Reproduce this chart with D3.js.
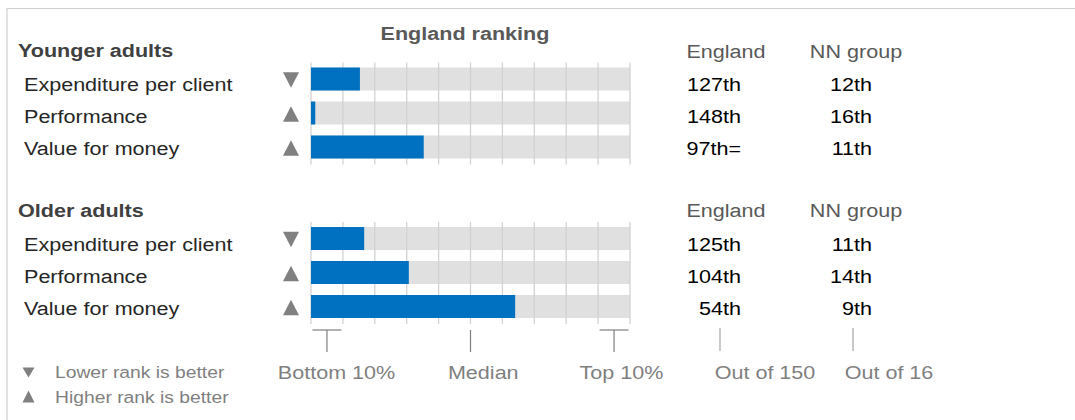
<!DOCTYPE html>
<html>
<head>
<meta charset="utf-8">
<script src="https://cdn.jsdelivr.net/npm/d3@7"></script>
<style>
  body { margin: 0; background: #fff; }
  svg { display: block; font-family: "Liberation Sans", Arial, sans-serif; }
</style>
</head>
<body>
<svg id="chart" width="1075" height="420"></svg>
<script>
(function() {

  // data
  var groups = ['Younger adults', 'Older adults'];
  var measures = ['Expenditure per client', 'Performance', 'Value for money'];
  var betterWay = ['down', 'up', 'up'];   // down = lower rank is better
  var englandRank = [[127, 148, 97], [125, 104, 54]];
  var englandLabel = [['127th', '148th', '97th='], ['125th', '104th', '54th']];
  var nnRank = [[12, 16, 11], [11, 14, 9]];
  var englandTotal = 150;
  var nnTotal = 16;
  var markers = [
    {label: 'Bottom 10%', from: 0, to: 15, textAt: 12},
    {label: 'Median', from: 75, to: 75, textAt: 81},
    {label: 'Top 10%', from: 135, to: 150, textAt: 146}
  ];
  var columns = ['England', 'NN group'];
  var outOf = ['Out of ' + englandTotal, 'Out of ' + nnTotal];

  var colors = {blue: '#0070c0', track: '#e0e0e0', grid: '#d2d2d2', tri: '#808080',
                dark: '#404040', label: '#262626', grey: '#7f7f7f'};
  var sx = 1.135;   // text in the reference is a little wide

  var svg = d3.select('#chart');

  // text helper: stretched horizontally
  var txt = function(x, y, s, size, opts) {
    opts = opts || {};
    return svg.append('text')
      .attr('transform', 'translate(' + x + ',' + y + ') scale(' + sx + ',1)')
      .attr('text-anchor', opts.anchor || 'start')
      .attr('font-size', size)
      .attr('font-weight', opts.bold ? 'bold' : 'normal')
      .attr('fill', opts.fill || colors.label)
      .text(s);
  };

  var tri = function(cx, cy, w, h, dir) {
    var p = dir === 'down'
      ? [[cx - w/2, cy - h/2], [cx + w/2, cy - h/2], [cx, cy + h/2]]
      : [[cx - w/2, cy + h/2], [cx + w/2, cy + h/2], [cx, cy - h/2]];
    svg.append('path').attr('d', d3.line()(p) + 'Z').attr('fill', colors.tri);
  };

  // frame
  svg.append('path')
    .attr('d', 'M7,420V8.5H1075')
    .attr('fill', 'none').attr('stroke', '#d0d0d0').attr('stroke-width', 1.2);

  var x = d3.scaleLinear().domain([0, englandTotal]).range([311, 630]);
  var gridVals = d3.range(0, englandTotal + 1, englandTotal / 10);

  txt(465, 40, 'England ranking', 19, {bold: true, anchor: 'middle', fill: '#595959'});

  var groupOff = [0, 159.5];
  var rowStep = 34, barH = 23, textStep = 32;

  groups.forEach(function(g, gi) {
    var off = groupOff[gi];
    var barTop = 67.5 + off;

    txt(18, 57 + off, g, 19, {bold: true, fill: colors.dark});
    columns.forEach(function(c, ci) {
      txt(ci === 0 ? 726 : 856, 57.5 + off, c, 19, {anchor: 'middle', fill: '#595959'});
    });

    // tracks
    svg.selectAll(null).data(measures).enter().append('rect')
      .attr('x', x(0)).attr('width', x(englandTotal) - x(0))
      .attr('y', function(d, i) { return barTop + i * rowStep; })
      .attr('height', barH)
      .attr('fill', colors.track);

    // grid
    svg.selectAll(null).data(gridVals).enter().append('line')
      .attr('x1', function(d) { return x(d); }).attr('x2', function(d) { return x(d); })
      .attr('y1', barTop - 5).attr('y2', barTop + 2 * rowStep + barH + 6)
      .attr('stroke', colors.grid).attr('stroke-width', 1.3);

    // bars
    svg.selectAll(null).data(englandRank[gi]).enter().append('rect')
      .attr('x', x(0))
      .attr('width', function(d) { return x(englandTotal - d) - x(0); })
      .attr('y', function(d, i) { return barTop + i * rowStep; })
      .attr('height', barH)
      .attr('fill', colors.blue);

    measures.forEach(function(m, i) {
      var base = 91 + off + i * textStep;
      txt(24, base, m, 19);
      tri(291, barTop + i * rowStep + barH / 2 + 1, 16, 15.5, betterWay[i]);
      txt(741, base, englandLabel[gi][i], 19, {anchor: 'end', fill: '#000'});
      txt(872, base, nnRank[gi][i] + 'th', 19, {anchor: 'end', fill: '#000'});
    });
  });

  // median / 10% markers
  var by = 330, by2 = 352;
  markers.forEach(function(mk) {
    if (mk.from !== mk.to) {
      svg.append('line')
        .attr('x1', x(mk.from) + 1.5).attr('x2', x(mk.to) - 1.5)
        .attr('y1', by).attr('y2', by)
        .attr('stroke', colors.grey).attr('stroke-width', 1.2);
    }
    var mid = x((mk.from + mk.to) / 2);
    svg.append('line')
      .attr('x1', mid).attr('x2', mid).attr('y1', by).attr('y2', by2)
      .attr('stroke', colors.grey).attr('stroke-width', 1.2);
    txt(x(mk.textAt), 379, mk.label, 19, {anchor: 'middle', fill: colors.grey});
  });

  [720, 853].forEach(function(lx, i) {
    svg.append('line')
      .attr('x1', lx).attr('x2', lx).attr('y1', 328).attr('y2', 351)
      .attr('stroke', '#a6a6a6').attr('stroke-width', 1.2);
    txt(i === 0 ? 765 : 889, 379, outOf[i], 19, {anchor: 'middle', fill: colors.grey});
  });

  // legend
  tri(28.5, 372.5, 12, 10, 'down');
  txt(55, 378, 'Lower rank is better', 17, {fill: colors.grey});
  tri(28.5, 396.5, 12, 12, 'up');
  txt(55, 403, 'Higher rank is better', 17, {fill: colors.grey});

})();
</script>
</body>
</html>
